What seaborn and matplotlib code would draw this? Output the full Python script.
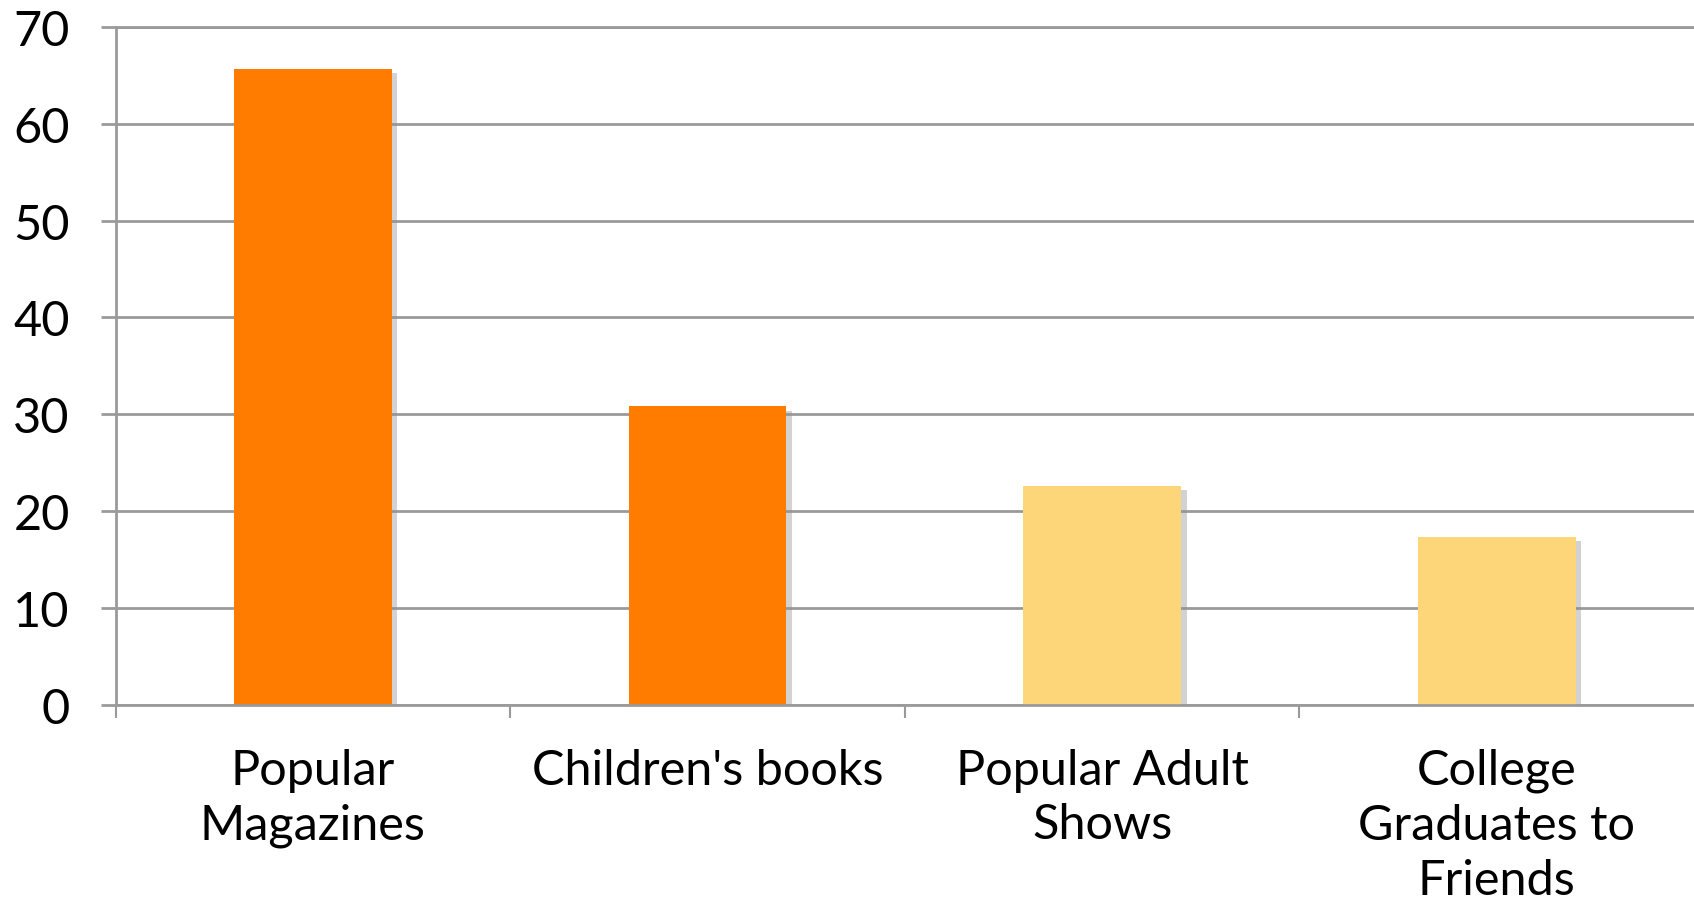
import matplotlib
matplotlib.use("Agg")
import matplotlib.pyplot as plt
import matplotlib.patheffects as pe
from matplotlib.ticker import FixedLocator
import seaborn as sns

categories = ["Popular\nMagazines", "Children's books", "Popular Adult\nShows",
              "College\nGraduates to\nFriends"]
values = [65.7, 30.8, 22.6, 17.3]
colors = ["#FF7C00", "#FF7C00", "#FDD679", "#FDD679"]
yticks = [0, 10, 20, 30, 40, 50, 60, 70]

sns.set_theme(style="white")
plt.rcParams["font.family"] = ["Lato", "DejaVu Sans"]

fig = plt.figure(figsize=(16.94, 9.03), dpi=100)
ax = fig.add_axes([0.0682, 0.2187, 0.9318, 0.7502])

sns.barplot(x=categories, y=values, hue=categories, palette=colors, legend=False,
            width=0.4, linewidth=0, saturation=1, ax=ax)

for p in ax.patches:
    p.set_path_effects([pe.SimplePatchShadow(offset=(4, -3), shadow_rgbFace="#909090", alpha=0.4),
                        pe.Normal()])

grid_c = "#9A9A9A"
ax.set_ylim(0, 70)
ax.set_xlim(-0.5, 3.5)
ax.set_yticks(yticks)
ax.set_yticklabels([str(v) for v in yticks])
ax.yaxis.grid(True, color=grid_c, linewidth=2)
ax.set_axisbelow(True)

for s in ["left", "bottom", "top"]:
    ax.spines[s].set_visible(True)
    ax.spines[s].set_color(grid_c)
    ax.spines[s].set_linewidth(2)
ax.spines["right"].set_visible(False)

ax.tick_params(axis="y", which="major", length=11, width=2, color=grid_c, pad=22,
               labelsize=35, labelcolor="black", left=True)
ax.xaxis.set_minor_locator(FixedLocator([-0.5, 0.5, 1.5, 2.5]))
ax.tick_params(axis="x", which="minor", length=9, width=1.5, color=grid_c, bottom=True)
ax.tick_params(axis="x", which="major", length=0, pad=31, labelsize=35, labelcolor="black")
for t in ax.get_xticklabels():
    t.set_multialignment("center")
    t.set_linespacing(1.3)
ax.set_xlabel("")
ax.set_ylabel("")

fig.savefig("out.png", dpi=100)
